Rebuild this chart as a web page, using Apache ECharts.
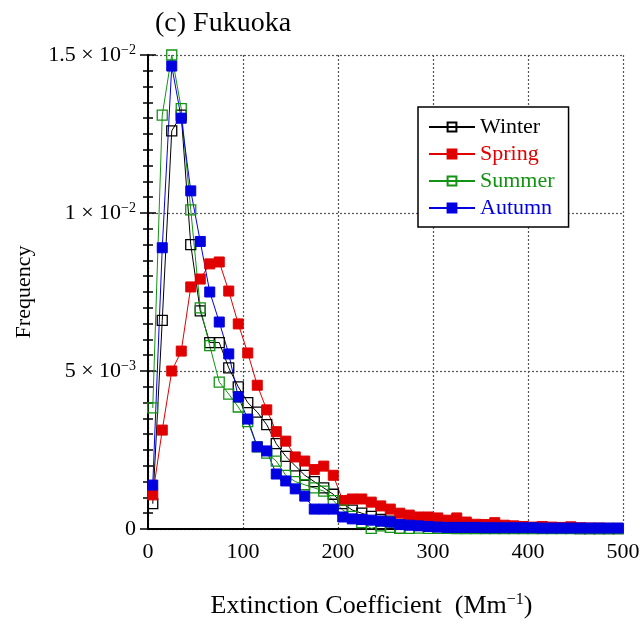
<!DOCTYPE html>
<html>
<head>
<meta charset="utf-8">
<script src="https://cdn.jsdelivr.net/npm/echarts@6/dist/echarts.min.js"></script>
<style>html,body{margin:0;padding:0;background:#fff}#c{width:643px;height:624px}</style>
</head>
<body>
<div id="c"></div>
<script>
const binCenters = [5,15,25,35,45,55,65,75,85,95,105,115,125,135,145,155,165,175,185,195,205,215,225,235,245,255,265,275,285,295,305,315,325,335,345,355,365,375,385,395,405,415,425,435,445,455,465,475,485,495];

const winter = [0.0008,0.0066,0.0126,0.0131,0.0090,0.0069,0.0059,0.0059,0.0051,0.0045,0.0040,0.0037,0.0033,0.0027,0.0023,0.0020,0.0017,0.0015,0.0013,0.0011,0.0008,0.0006,0.0005,0.0004,0.0003,0.00025,0.00002,0.00015,0.00012,0.0001,0.00008,0.00007,0.00006,0.00005,0.00005,0.00004,0.00004,0.00003,0.00003,0.00003,0.00002,0.00002,0.00002,0.00002,0.00002,0.00001,0.00001,0.00001,0.00001,0.00001];

const spring = [0.00108,0.00313,0.0050,0.00563,0.00766,0.00791,0.00839,0.00845,0.00753,0.00649,0.00557,0.00455,0.00377,0.00308,0.00278,0.00228,0.00215,0.00188,0.00199,0.00170,0.00090,0.00095,0.00095,0.00085,0.00073,0.00063,0.00050,0.00044,0.00038,0.00038,0.00035,0.00028,0.00035,0.00022,0.00015,0.00014,0.00020,0.00012,0.00010,0.00008,0.00006,0.00008,0.00006,0.00005,0.00007,0.00004,0.00003,0.00003,0.00002,0.00002];

const summer = [0.00383,0.0131,0.0150,0.0133,0.0101,0.0070,0.0058,0.00465,0.00427,0.00386,0.0034,0.0026,0.0024,0.00215,0.0017,0.0015,0.0014,0.0013,0.0012,0.0009,0.0006,0.0004,0.0002,0.00002,0.0001,0.00005,0.00002,0.00002,0.00003,0.00002,0.00002,0.00002,0.00001,0.00001,0.00001,0.00001,0.00001,0.00001,0.00001,0.00001,0.00001,0.00001,0.00001,0.00001,0.00001,0.00001,0.00001,0.00001,0.00001,0.00001];

const autumn = [0.00139,0.0089,0.01465,0.0130,0.0107,0.0091,0.0075,0.00655,0.00554,0.00418,0.00348,0.0026,0.00247,0.00174,0.00152,0.00127,0.00104,0.00063,0.00063,0.00063,0.00038,0.00032,0.0003,0.00028,0.00025,0.00022,0.00014,0.00012,0.0001,0.00008,0.00006,0.00005,0.00005,0.00005,0.00005,0.00004,0.00004,0.00004,0.00004,0.00004,0.00004,0.00003,0.00003,0.00003,0.00003,0.00003,0.00003,0.00003,0.00003,0.00003];

const seriesNames = ['Winter','Spring','Summer','Autumn'];
const xTickLabels = ['0','100','200','300','400','500'];
const yTickLabels = [['0',''],['5 × 10','−3'],['1 × 10','−2'],['1.5 × 10','−2']];

const FONT = 'Liberation Serif';
const colors = {Winter:'#000000', Spring:'#e00000', Summer:'#139313', Autumn:'#0000e0'};

function pairs(arr){ return arr.map((v,i)=>[binCenters[i], v]); }

function mkSeries(name, arr, filled){
  const c = colors[name];
  return {
    name, type:'line', data: pairs(arr),
    symbol:'rect', symbolSize:10,
    lineStyle:{color:c, width:1},
    itemStyle: filled ? {color:c, borderColor:c, borderWidth:1}
                      : {color:'rgba(255,255,255,0)', borderColor:c, borderWidth:1.3},
    color:c,
    emphasis:{disabled:true},
    z: 2
  };
}

const chart = echarts.init(document.getElementById('c'), null, {renderer:'canvas'});
const gridLine = {show:true, lineStyle:{color:'#555', width:1.2, type:[2,2]}};
const richLegend = {};
seriesNames.forEach(n => richLegend[n] = {color: colors[n], fontFamily:FONT, fontSize:22});
const tickStyle = {color:'#000', width:1.5};

chart.setOption({
  animation:false,
  backgroundColor:'#fff',
  title:{text:'(c) Fukuoka', left:150, top:5, textStyle:{fontFamily:FONT, fontSize:28, fontWeight:'normal', color:'#000'}},
  legend:{
    data: seriesNames,
    orient:'vertical', left:418, top:107,
    padding:[9,14,8,10], itemGap:5, itemWidth:46, itemHeight:11,
    backgroundColor:'#fff', borderColor:'#000', borderWidth:1.5,
    textStyle:{fontFamily:FONT, fontSize:22, rich: richLegend},
    formatter: n => '{' + n + '|' + n + '}',
    selectedMode:false
  },
  grid:{left:148, top:55, right:20, bottom:94, containLabel:false},
  xAxis:[{
    type:'value', min:0, max:500, interval:100,
    axisLine:{show:true, lineStyle:{color:'#000', width:2}},
    axisTick:{show:false},
    axisLabel:{fontFamily:FONT, fontSize:22, color:'#000', margin:12,
      formatter:(v)=> xTickLabels[Math.round(v/100)]},
    splitLine: gridLine,
    name:'{a|Extinction Coefficient  (Mm}{s|−1}{a|)}',
    nameLocation:'middle', nameGap:63,
    nameTextStyle:{padding:[0,28,0,0], rich:{a:{fontFamily:FONT, fontSize:26, color:'#000', lineHeight:28}, s:{fontFamily:FONT, fontSize:16, color:'#000', verticalAlign:'top', lineHeight:16}}}
  },{
    type:'value', min:0, max:500, interval:100, position:'top',
    axisLine:{show:true, lineStyle:{color:'#000', width:2}},
    axisTick:{show:false}, axisLabel:{show:false}, splitLine:{show:false}
  }],
  yAxis:[{
    type:'value', min:0, max:0.015, interval:0.005, position:'left',
    axisLine:{show:true, lineStyle:{color:'#000', width:2}},
    axisTick:{show:true, inside:true, length:8, lineStyle:tickStyle},
    minorTick:{show:true, splitNumber:10, length:5, lineStyle:tickStyle},
    axisLabel:{fontFamily:FONT, fontSize:22, color:'#000', margin:12,
      formatter:(v, i)=>{ const L = yTickLabels[i]; return L[1] ? '{a|'+L[0]+'}{s|'+L[1]+'}' : '{a|'+L[0]+'}'; },
      rich:{a:{fontFamily:FONT, fontSize:22, color:'#000', lineHeight:24}, s:{fontFamily:FONT, fontSize:14, color:'#000', verticalAlign:'top', lineHeight:14}}
    },
    splitLine: gridLine,
    name:'Frequency', nameLocation:'middle', nameGap:113, nameRotate:90,
    nameTextStyle:{fontFamily:FONT, fontSize:22, color:'#000'}
  },{
    type:'value', min:0, max:0.015, interval:0.005, position:'right',
    axisLine:{show:true, lineStyle:{color:'#000', width:2}},
    axisTick:{show:true, inside:true, length:8, lineStyle:tickStyle},
    minorTick:{show:true, splitNumber:10, length:5, lineStyle:tickStyle},
    axisLabel:{show:false}, splitLine:{show:false}
  }],
  series:[
    mkSeries('Winter', winter, false),
    mkSeries('Spring', spring, true),
    mkSeries('Summer', summer, false),
    mkSeries('Autumn', autumn, true)
  ]
});
</script>
</body>
</html>
